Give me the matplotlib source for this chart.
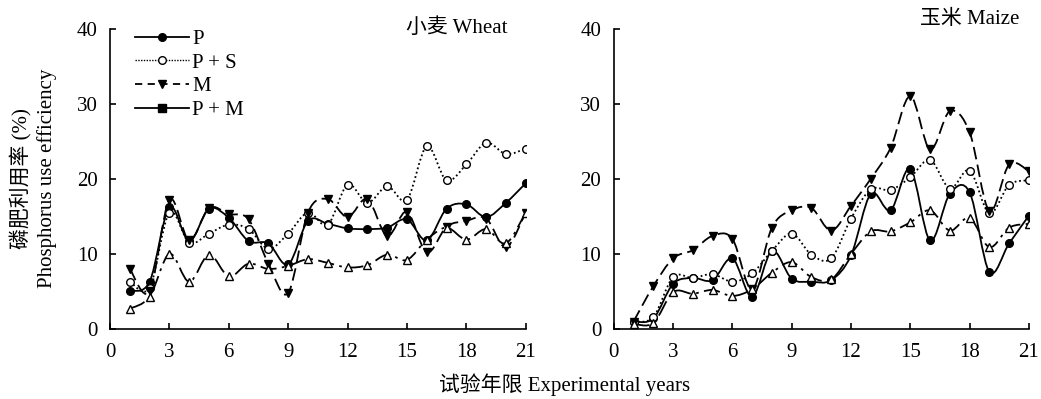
import numpy as np
import matplotlib
matplotlib.use('Agg')
import matplotlib.pyplot as plt
from matplotlib.path import Path
from matplotlib.patches import PathPatch
from matplotlib.lines import Line2D

plt.rcParams['font.family'] = ['Liberation Serif', 'Noto Sans CJK SC']
plt.rcParams['mathtext.fontset'] = 'stix'

years = list(range(1, 22))

# wheat
wheat_p = [5.1, 6.3, 16.2, 11.7, 16.0, 14.8, 11.7, 11.4, 8.6, 14.4, 14.0, 13.4, 13.3, 13.5,
           14.6, 11.8, 16.0, 16.6, 14.9, 16.8, 19.4]
wheat_ps = [6.3, 5.5, 15.5, 11.5, 12.7, 13.9, 13.3, 10.7, 12.7, 15.5, 13.9, 19.2, 16.8, 19.0,
            17.2, 24.3, 19.8, 21.9, 24.8, 23.3, 24.0]
wheat_m = [8.0, 5.0, 17.2, 11.8, 16.1, 15.3, 14.6, 8.7, 4.8, 15.5, 17.3, 14.9, 17.3, 12.4,
           15.6, 10.2, 13.6, 14.4, 14.7, 10.9, 15.5]
wheat_pm = [2.7, 4.3, 10.0, 6.3, 9.9, 7.0, 8.7, 8.0, 8.4, 9.3, 8.8, 8.2, 8.5, 9.9,
            9.2, 11.9, 13.5, 11.9, 13.3, 11.4, 15.5]

# maize
maize_p = [1.0, 1.4, 6.0, 6.8, 6.5, 9.4, 4.3, 10.4, 6.7, 6.3, 6.5, 9.8, 18.0, 15.8,
           21.3, 11.8, 18.0, 18.2, 7.6, 11.4, 15.1]
maize_ps = [1.0, 1.6, 6.9, 6.8, 7.3, 6.3, 7.4, 10.4, 12.7, 9.9, 9.4, 14.7, 18.6, 18.5,
            20.2, 22.5, 18.7, 21.1, 15.4, 19.2, 19.8]
maize_m = [1.0, 5.7, 9.4, 10.5, 12.4, 12.0, 5.3, 13.5, 15.8, 16.1, 13.1, 16.4, 20.0, 24.1,
           31.0, 23.9, 29.0, 26.2, 15.7, 21.9, 21.0]
maize_pm = [0.7, 0.8, 4.9, 4.7, 5.2, 4.4, 5.3, 7.5, 8.9, 6.9, 6.6, 10.0, 13.0, 13.0,
            14.2, 15.8, 13.1, 14.8, 10.9, 13.5, 14.0]

labels = ['P', 'P + S', 'M', 'P + M']
xticks = [0, 3, 6, 9, 12, 15, 18, 21]
yticks = [0, 10, 20, 30, 40]

FS = 15

styles = [
    dict(ls='-', marker='o', mfc='black'),
    dict(ls=(0, (1, 1.5)), marker='o', mfc='white'),
    dict(ls=(0, (7, 3)), marker='v', mfc='black'),
    dict(ls=(0, (9, 3, 1.5, 3)), marker='^', mfc='white'),
]


def smooth_line(ax, x, y, ls):
    # excel-like smoothed curve: cubic bezier through the points
    pts = np.column_stack([x, y]).astype(float)
    n = len(pts)
    verts = [pts[0]]
    codes = [Path.MOVETO]
    for i in range(n - 1):
        p0 = pts[max(i - 1, 0)]
        p1 = pts[i]
        p2 = pts[i + 1]
        p3 = pts[min(i + 2, n - 1)]
        verts += [p1 + (p2 - p0) / 6, p2 - (p3 - p1) / 6, p2]
        codes += [Path.CURVE4] * 3
    ax.add_patch(PathPatch(Path(verts, codes), fill=False, lw=1.3,
                           ls=ls, edgecolor='black', zorder=2))


def draw_panel(ax, series):
    for vals, st in zip(series, styles):
        smooth_line(ax, years, vals, st['ls'])
        ax.plot(years, vals, ls='none', marker=st['marker'], ms=5.5,
                mfc=st['mfc'], mec='black', mew=1.0, zorder=3)
    ax.set_xlim(0, 21)
    ax.set_ylim(0, 40)
    ax.set_xticks(xticks)
    ax.set_yticks(yticks)
    ax.spines['top'].set_visible(False)
    ax.spines['right'].set_visible(False)
    for s in ['left', 'bottom']:
        ax.spines[s].set_linewidth(1.2)
    ax.tick_params(direction='in', length=4, width=1.2, labelsize=FS)
    ax.tick_params(axis='x', pad=10)
    ax.tick_params(axis='y', pad=9)


fig = plt.figure(figsize=(10.41, 3.99), dpi=100)
ax1 = fig.add_axes([0.1057, 0.1754, 0.3993, 0.7531])
ax2 = fig.add_axes([0.5896, 0.1754, 0.3988, 0.7531])

draw_panel(ax1, [wheat_p, wheat_ps, wheat_m, wheat_pm])
draw_panel(ax2, [maize_p, maize_ps, maize_m, maize_pm])

ax1.text(0.957, 1.0, '小麦 Wheat', transform=ax1.transAxes, ha='right', va='center', fontsize=FS)
ax2.text(0.978, 1.0, '玉米 Maize', transform=ax2.transAxes, ha='right', va='bottom', fontsize=FS)

ax1.set_ylabel('磷肥利用率 (%)\nPhosphorus use efficiency', fontsize=FS, labelpad=14,
               linespacing=1.3)
fig.text(0.542, 0.035, '试验年限 Experimental years', ha='center', va='center', fontsize=FS)

handles = [
    Line2D([], [], color='black', lw=1.3, ls='-', marker='o', ms=5.5, mfc='black', mec='black'),
    Line2D([], [], color='black', lw=1.0, ls=(0, (1, 1)), marker='o', ms=5.5, mfc='white', mec='black'),
    Line2D([], [], color='black', lw=1.3, ls=(0, (4, 3)), marker='v', ms=5.5, mfc='black', mec='black'),
    Line2D([], [], color='black', lw=1.3, ls='-', marker='s', ms=5.5, mfc='black', mec='black'),
]
ax1.legend(handles, labels, loc='upper left', bbox_to_anchor=(0.04, 1.025), frameon=False,
           fontsize=FS, handlelength=2.6, handletextpad=0.15, labelspacing=0.2,
           borderaxespad=0)

fig.savefig('out.png', dpi=100)
